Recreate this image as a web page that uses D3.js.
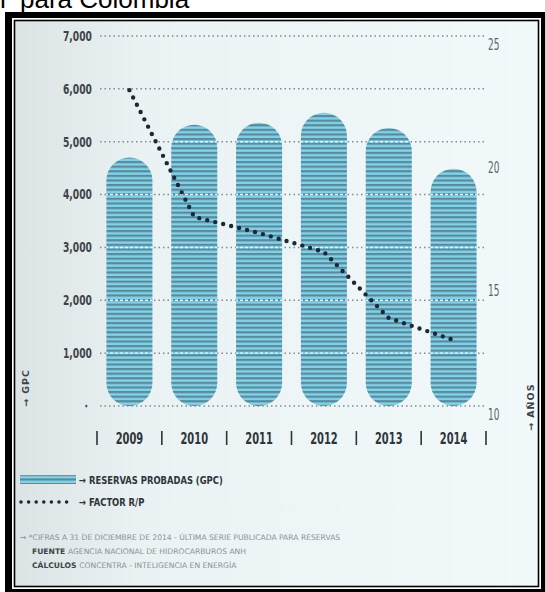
<!DOCTYPE html>
<html><head><meta charset="utf-8">
<script src="https://cdn.jsdelivr.net/npm/d3@7/dist/d3.min.js"></script>
<style>
html,body{margin:0;padding:0;background:#fff;}
svg{display:block;}
.c{font-family:'DejaVu Sans',sans-serif;}
</style></head>
<body>
<script>
// ---- data ----
const years = ["2009","2010","2011","2012","2013","2014"];
const reservas = [4700, 5320, 5360, 5550, 5260, 4490];      // GPC
const factorRP = [23.13, 17.99, 17.34, 16.57, 13.89, 13.0];  // años
const leftTicks = [0,1000,2000,3000,4000,5000,6000,7000];
const rightTicks = [10,15,20,25];
const legendLabels = ["→ RESERVAS PROBADAS (GPC)", "→ FACTOR R/P"];
const titleParts = ["r", "para Colombia"];

const W = 545, H = 592;
const svg = d3.select("body").append("svg").attr("width", W).attr("height", H);
const defs = svg.append("defs");

// background gradient
const bg = defs.append("linearGradient").attr("id","bg").attr("x1",0).attr("x2",1).attr("y1",0).attr("y2",0);
bg.append("stop").attr("offset","0%").attr("stop-color","#dbe3e4");
bg.append("stop").attr("offset","25%").attr("stop-color","#eaf2f3");
bg.append("stop").attr("offset","100%").attr("stop-color","#f1f9fb");

// stripe pattern
const pat = defs.append("pattern").attr("id","stripes").attr("patternUnits","userSpaceOnUse")
  .attr("width",10).attr("height",4.6);
pat.append("rect").attr("width",10).attr("height",4.6).attr("fill","#84d2ea");
pat.append("rect").attr("width",10).attr("height",2.2).attr("fill","#578b9c");

// title fragment
const tt = svg.append("text").attr("y",8).attr("font-family","Liberation Sans, Arial, sans-serif")
  .attr("font-size",26).attr("fill","#000");
tt.append("tspan").attr("x",0).text(titleParts[0]);
tt.append("tspan").attr("x",20).text(titleParts[1]);

// frame
svg.append("rect").attr("x",5).attr("y",12).attr("width",W-5).attr("height",H-12).attr("fill","#000");
svg.append("rect").attr("x",12).attr("y",18).attr("width",529).attr("height",571).attr("fill","#fff");
svg.append("rect").attr("x",14.5).attr("y",20.5).attr("width",524).attr("height",566)
  .attr("fill","url(#bg)").attr("stroke","#000").attr("stroke-width",1.6);

// scales
const yL = d3.scaleLinear().domain([0,7000]).range([406,36]);
const yR = d3.scaleLinear().domain([10,25]).range([414,44]);
const x = d3.scaleBand().domain(years).range([97,486]);
const barW = x.bandwidth()*0.71;
const cx = d => x(d) + x.bandwidth()/2;

// gridlines (under bars)
const gx0 = 100, gx1 = 485;
svg.append("g").selectAll("line").data(leftTicks).join("line")
  .attr("x1",gx0).attr("x2",gx1).attr("y1",d=>yL(d)).attr("y2",d=>yL(d))
  .attr("stroke","#7e8d93").attr("stroke-width",1.5).attr("stroke-dasharray","1.5,3");

// bars
const bars = svg.append("g");
bars.selectAll("rect").data(years).join("rect")
  .attr("x",d=>cx(d)-barW/2).attr("width",barW)
  .attr("y",(d,i)=>yL(reservas[i])).attr("height",(d,i)=>yL(0)-yL(reservas[i]))
  .attr("rx",barW/2).attr("ry",barW/2)
  .attr("fill","url(#stripes)");

// clip for white dashes over bars
const clip = defs.append("clipPath").attr("id","barclip");
clip.selectAll("rect").data(years).join("rect")
  .attr("x",d=>cx(d)-barW/2).attr("width",barW)
  .attr("y",(d,i)=>yL(reservas[i])).attr("height",(d,i)=>yL(0)-yL(reservas[i]))
  .attr("rx",barW/2).attr("ry",barW/2);
svg.append("g").attr("clip-path","url(#barclip)").selectAll("line").data(leftTicks.filter(d=>d>0)).join("line")
  .attr("x1",gx0).attr("x2",gx1).attr("y1",d=>yL(d)).attr("y2",d=>yL(d))
  .attr("stroke","#e6f6fb").attr("stroke-width",1.4).attr("stroke-dasharray","3,2");

// left axis labels
const axL = svg.append("g").attr("transform","translate(92,0)")
  .call(d3.axisLeft(yL).tickValues(leftTicks).tickSize(0).tickPadding(0)
    .tickFormat(d => d===0 ? "•" : d3.format(",")(d)));
axL.select(".domain").remove();
axL.selectAll("text").attr("class","c").attr("font-weight","bold")
  .attr("font-size",13.5).attr("fill","#3d4448").attr("transform","scale(0.68,1)");
axL.selectAll(".tick").filter(d=>d===0).select("text").attr("font-size",8).attr("dx",-6);

// right axis labels
const axR = svg.append("g").attr("transform","translate(488,0)")
  .call(d3.axisRight(yR).tickValues(rightTicks).tickSize(0).tickPadding(0));
axR.select(".domain").remove();
axR.selectAll("text").attr("class","c").attr("font-size",16).attr("fill","#5d6367")
  .attr("transform","scale(0.56,1)");

// bottom axis (years)
const axB = svg.append("g").attr("transform","translate(0,433)")
  .call(d3.axisBottom(x).tickSize(0).tickPadding(0));
axB.select(".domain").remove();
axB.selectAll("text").attr("class","c").attr("font-weight","bold")
  .attr("font-size",15).attr("fill","#2e3438").attr("transform","scale(0.66,1)");
const edges = years.map(d=>x(d)).concat([x.range()[1]]);
svg.append("g").selectAll("line").data(edges).join("line")
  .attr("x1",d=>d).attr("x2",d=>d).attr("y1",431).attr("y2",445)
  .attr("stroke","#2e3438").attr("stroke-width",1.6);

// axis titles
svg.append("text").attr("class","c").attr("transform","translate(29,407) rotate(-90)")
  .attr("font-weight","bold").attr("font-size",9.5)
  .attr("letter-spacing",1).attr("fill","#3d4448").text("→ GPC");
svg.append("text").attr("class","c").attr("transform","translate(534,431) rotate(-90)")
  .attr("font-weight","bold").attr("font-size",9.5)
  .attr("letter-spacing",1).attr("fill","#3d4448").text("→ AÑOS");

// factor R/P dotted line
const line = d3.line().x((d,i)=>cx(years[i])).y(d=>yR(d));
svg.append("path").datum(factorRP).attr("d",line).attr("fill","none")
  .attr("stroke","#1c2738").attr("stroke-width",4.4).attr("stroke-linecap","round")
  .attr("stroke-dasharray","0,8.2");

// legend
const lg = svg.append("g");
lg.append("rect").attr("x",20).attr("y",475).attr("width",56).attr("height",9).attr("fill","url(#stripes)");
lg.append("line").attr("x1",21).attr("x2",74).attr("y1",502).attr("y2",502)
  .attr("stroke","#1c2738").attr("stroke-width",3.6).attr("stroke-linecap","round").attr("stroke-dasharray","0,7.6");
lg.selectAll("text").data(legendLabels).join("text").attr("class","c")
  .attr("transform",(d,i)=>`translate(79,${484+i*22}) scale(0.8,1)`)
  .attr("font-weight","bold").attr("font-size",10.5)
  .attr("fill","#2e3438").text(d=>d);

// footer notes
const ft = svg.append("g").attr("class","c").attr("font-size",7.6).attr("fill","#8a9296");
ft.append("text").attr("x",20).attr("y",540).text("→  *CIFRAS A 31 DE DICIEMBRE DE 2014 - ÚLTIMA SERIE PUBLICADA PARA RESERVAS");
const f2 = ft.append("text").attr("x",32).attr("y",554);
f2.append("tspan").attr("font-weight","bold").attr("fill","#3d4448").text("FUENTE ");
f2.append("tspan").text("AGENCIA NACIONAL DE HIDROCARBUROS ANH");
const f3 = ft.append("text").attr("x",32).attr("y",568);
f3.append("tspan").attr("font-weight","bold").attr("fill","#3d4448").text("CÁLCULOS ");
f3.append("tspan").text("CONCENTRA - INTELIGENCIA EN ENERGÍA");
</script>
</body></html>
